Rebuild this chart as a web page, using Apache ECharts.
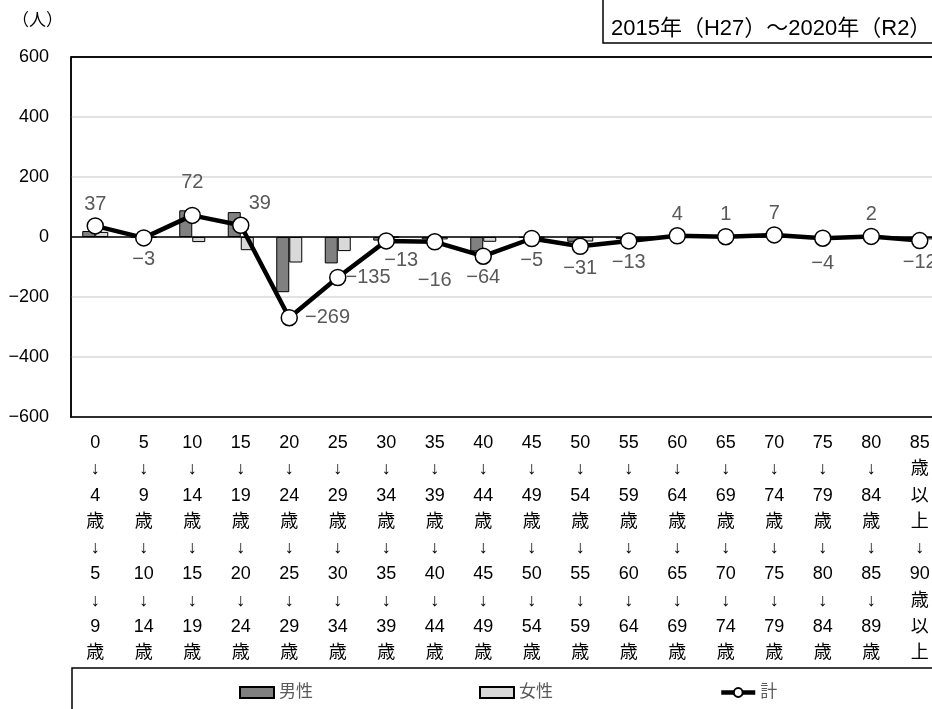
<!DOCTYPE html>
<html>
<head>
<meta charset="utf-8">
<script src="https://cdn.jsdelivr.net/npm/echarts@6/dist/echarts.min.js"></script>
<style>
  html, body { margin: 0; padding: 0; background: #fff; overflow: hidden; }
  /* 元図は右端が切れているので、少し広めに描いて切る */
  #chart { width: 944px; height: 709px; }
</style>
</head>
<body>
<div id="chart"></div>
<script>
  // 年齢階級（5歳階級）別 コーホート変化
  const categories = [
    '0\n↓\n4\n歳\n↓\n5\n↓\n9\n歳',
    '5\n↓\n9\n歳\n↓\n10\n↓\n14\n歳',
    '10\n↓\n14\n歳\n↓\n15\n↓\n19\n歳',
    '15\n↓\n19\n歳\n↓\n20\n↓\n24\n歳',
    '20\n↓\n24\n歳\n↓\n25\n↓\n29\n歳',
    '25\n↓\n29\n歳\n↓\n30\n↓\n34\n歳',
    '30\n↓\n34\n歳\n↓\n35\n↓\n39\n歳',
    '35\n↓\n39\n歳\n↓\n40\n↓\n44\n歳',
    '40\n↓\n44\n歳\n↓\n45\n↓\n49\n歳',
    '45\n↓\n49\n歳\n↓\n50\n↓\n54\n歳',
    '50\n↓\n54\n歳\n↓\n55\n↓\n59\n歳',
    '55\n↓\n59\n歳\n↓\n60\n↓\n64\n歳',
    '60\n↓\n64\n歳\n↓\n65\n↓\n69\n歳',
    '65\n↓\n69\n歳\n↓\n70\n↓\n74\n歳',
    '70\n↓\n74\n歳\n↓\n75\n↓\n79\n歳',
    '75\n↓\n79\n歳\n↓\n80\n↓\n84\n歳',
    '80\n↓\n84\n歳\n↓\n85\n↓\n89\n歳',
    '85\n歳\n以\n上\n↓\n90\n歳\n以\n上'
  ];
  const male   = [20, -1, 89, 83, -184, -88, -12, -8, -48, -3, -16, -7, 2, 1, 4, -2, 1, -4];
  const female = [17, -2, -17, -44, -85, -47, -1, -8, -16, -2, -15, -6, 2, 0, 3, -2, 1, -8];
  const total  = [37, -3, 72, 39, -269, -135, -13, -16, -64, -5, -31, -13, 4, 1, 7, -4, 2, -12];
  const yTicks = [-600, -400, -200, 0, 200, 400, 600];

  const FONT = "'Liberation Sans', 'Noto Sans CJK JP', sans-serif";
  const fmtNum = v => String(v).replace('-', '−');

  // ラベル位置の調整（元図に合わせる）
  const labelPos = {
    2: { position: 'top', distance: 14 },
    3: { position: 'top', distance: 3, offset: [19, 0] },
    4: { position: 'right', distance: 7 },
    5: { position: 'right', distance: -1 },
    6: { position: 'bottom', distance: 1, offset: [15, 0] },
    7: { position: 'bottom', distance: 20 },
    15: { position: 'bottom', distance: 7 }
  };

  function totalData() {
    return total.map((v, i) => {
      const lb = labelPos[i] || { position: v >= 0 ? 'top' : 'bottom', distance: 3 };
      return { value: v, label: lb };
    });
  }

  // 600 の線だけ黒（枠線）
  const splitColors = yTicks.map(t => t === yTicks[yTicks.length - 1] ? '#000' : '#d9d9d9');

  const chart = echarts.init(document.getElementById('chart'));
  chart.setOption({
    animation: false,
    textStyle: { fontFamily: FONT },
    grid: {
      left: 71, top: 57, right: 0, bottom: 292,
      show: true, borderColor: '#000', borderWidth: 1.5
    },
    legend: {
      data: [{ name: '男性', icon: 'rect' }, { name: '女性', icon: 'rect' }, { name: '計' }],
      left: 234, top: 679,
      itemWidth: 34, itemHeight: 11, itemGap: 166,
      lineStyle: { width: 4.5 },
      textStyle: { color: '#595959', fontSize: 17, fontFamily: FONT }
    },
    xAxis: {
      type: 'category',
      data: categories,
      axisLine: { onZero: false, lineStyle: { color: '#000', width: 1.5 } },
      axisTick: { show: false },
      axisLabel: {
        color: '#000', fontSize: 18, lineHeight: 26.25, margin: 13,
        interval: 0, fontFamily: FONT
      }
    },
    yAxis: {
      type: 'value',
      min: yTicks[0], max: yTicks[yTicks.length - 1], interval: 200,
      axisLine: { show: true, lineStyle: { color: '#000', width: 1.5 } },
      axisTick: { show: false },
      splitLine: { lineStyle: { color: splitColors, width: 1.5 } },
      axisLabel: { color: '#000', fontSize: 18, margin: 22, formatter: fmtNum, fontFamily: FONT }
    },
    series: [{
      name: '男性',
      type: 'bar',
      data: male,
      barWidth: 13,
      barGap: '0%',
      itemStyle: { color: '#808080', borderColor: '#000', borderWidth: 1 },
      markLine: {
        silent: true,
        symbol: 'none',
        label: { show: false },
        lineStyle: { color: '#000', type: 'solid', width: 1.5 },
        data: [{ yAxis: 0 }]
      }
    }, {
      name: '女性',
      type: 'bar',
      data: female,
      barWidth: 13,
      itemStyle: { color: '#d9d9d9', borderColor: '#000', borderWidth: 1 }
    }, {
      name: '計',
      type: 'line',
      data: totalData(),
      symbol: 'circle',
      symbolSize: 16,
      z: 5,
      lineStyle: { color: '#000', width: 4.5 },
      itemStyle: { color: '#fff', borderColor: '#000', borderWidth: 1.5 },
      label: {
        show: true, color: '#595959', fontSize: 20, fontFamily: FONT,
        formatter: p => fmtNum(p.value)
      }
    }],
    graphic: [{
      type: 'text',
      left: 12, top: 11,
      style: { text: '（人）', fill: '#000', font: "17px 'Noto Sans CJK JP'" }
    }, {
      type: 'rect',
      shape: { x: 603, y: -2, width: 340, height: 45 },
      style: { fill: '#fff', stroke: '#000', lineWidth: 1.5 }
    }, {
      type: 'text',
      left: 611, top: 18,
      style: { text: '2015年（H27）～2020年（R2）', fill: '#000', font: "22px 'Liberation Sans', 'Noto Sans CJK JP'" }
    }, {
      type: 'rect',
      z: -1,
      shape: { x: 72, y: 668, width: 880, height: 60 },
      style: { fill: '#fff', stroke: '#000', lineWidth: 1.5 }
    }]
  });
</script>
</body>
</html>
